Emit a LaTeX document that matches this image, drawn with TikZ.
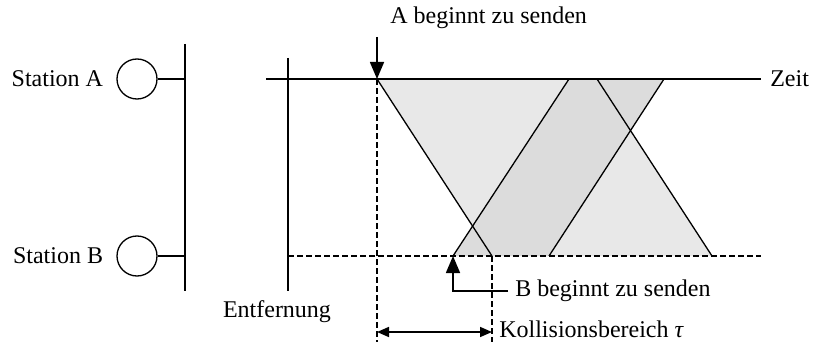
\documentclass[tikz,border=0pt]{standalone}
\usepackage{fontspec}
\setmainfont{Liberation Serif}
\usetikzlibrary{arrows.meta, positioning}
\definecolor{sendA}{HTML}{E8E8E8}
\definecolor{sendB}{HTML}{DCDCDC}
\tikzset{
  lbl/.style={font=\fontsize{12}{14}\selectfont},
  dashln/.style={dash pattern=on 3pt off 1.5pt},
  bigtip/.style={-{Triangle[length=8.5pt,width=7pt]}},
  station/.style={circle, draw, minimum size=20pt, inner sep=0pt},
}

\begin{document}
\begin{tikzpicture}[x=0.5pt, y=-0.5pt, line width=0.65pt, lbl]
  \useasboundingbox (0,0) rectangle (813,342);

  % Bus mit den Stationen
  \coordinate (bustop) at (185,44);
  \coordinate (busbot) at (185,291);
  \node[station] (sa) at (137,79) {};
  \node[station] (sb) at (137,256) {};
  \node[left=3pt of sa] (salbl) {Station A};
  \node[left=3pt of sb] (sblbl) {Station B};
  \draw[line width=0.85pt] (bustop) -- (busbot);
  \draw[line width=0.85pt] (sa) -- (sa -| bustop);
  \draw[line width=0.85pt] (sb) -- (sb -| bustop);

  % Weg-Zeit-Diagramm
  \coordinate (astart) at (377,79);
  \coordinate (aend) at (492,256);
  \coordinate (bstart) at (453,256);
  \fill[sendA] (astart) -- (597,79) -- (712,256) -- (aend) -- cycle;
  \fill[sendB] (bstart) -- (569,79) -- (664,79) -- (549,256) -- cycle;
  \draw (astart) -- (aend);
  \draw (597,79) -- (712,256);
  \draw (bstart) -- (569,79);
  \draw (549,256) -- (664,79);

  \coordinate (t0) at (266,79);
  \coordinate (t1) at (761,79);
  \draw (t0) -- (t1);
  \node[right=1pt of t1] (zeit) {Zeit};

  \coordinate (e0) at (288,58);
  \coordinate (e1) at (288,291);
  \draw (e0) -- (e1);
  \node (entf) at (277,312) {Entfernung};

  \coordinate (d1) at (761,256);
  \draw[dashln] (e0 |- d1) -- (d1);

  % Sendebeginn A und B
  \coordinate (atop) at (377,37);
  \draw[bigtip, line width=0.8pt] (atop) -- (astart);
  \node[anchor=west] (atxt) at (383,18) {A beginnt zu senden};
  \node[anchor=west] (btxt) at (508,291) {B beginnt zu senden};
  \draw[bigtip, line width=0.8pt] (btxt.west) -| (bstart);

  % Kollisionsbereich
  \coordinate (k0) at (377,332);
  \coordinate (k1) at (492,332);
  \draw[dashln] (astart) -- (377,342);
  \draw[dashln] (aend) -- (492,342);
  \draw[{Triangle[length=6pt,width=5pt]}-{Triangle[length=6pt,width=5pt]}, line width=0.8pt] (k0) -- (k1);
  \node[anchor=west, inner ysep=0pt] (ktxt) at (492,329) {Kollisionsbereich \textit{τ}};
\end{tikzpicture}
\end{document}
